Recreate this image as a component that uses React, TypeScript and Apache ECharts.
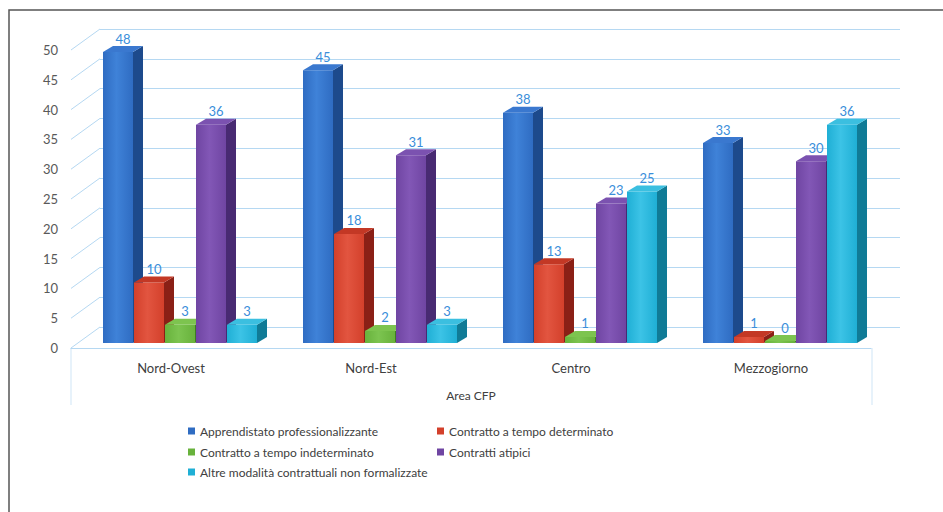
import React, { useEffect, useRef } from "react";
import * as echarts from "echarts";

const categories = ["Nord-Ovest", "Nord-Est", "Centro", "Mezzogiorno"];
const seriesNames = [
  "Apprendistato professionalizzante",
  "Contratto a tempo determinato",
  "Contratto a tempo indeterminato",
  "Contratti atipici",
  "Altre modalità contrattuali non formalizzate",
];
const apprendistato = [48, 45, 38, 33];
const tempoDeterminato = [10, 18, 13, 1];
const tempoIndeterminato = [3, 2, 1, 0];
const atipici = [36, 31, 23, 30];
const altreModalita = [3, 3, 25, 36];
const yTicks = [0, 5, 10, 15, 20, 25, 30, 35, 40, 45, 50];

const seriesValues = [apprendistato, tempoDeterminato, tempoIndeterminato, atipici, altreModalita];

const palette = [
  { front: "#2F6CC2", light: "#3F82D8", side: "#1D4A8C", top: "#3A78CF" },
  { front: "#D3402B", light: "#E25540", side: "#8A2016", top: "#C33825" },
  { front: "#68B23C", light: "#7CC450", side: "#3D7C22", top: "#7DC44F" },
  { front: "#6F45A2", light: "#8257B6", side: "#482A72", top: "#7B52B0" },
  { front: "#1FAFD5", light: "#3CC3E6", side: "#107B96", top: "#3BBFE0" },
];

const FONT = "Lato, 'Open Sans', sans-serif";
const GRID_COLOR = "#B5D8F2";

export default function App() {
  const ref = useRef<HTMLDivElement>(null);

  useEffect(() => {
    if (!ref.current) return;
    const chart = echarts.init(ref.current, undefined, { renderer: "svg" });

    const barSeries = seriesValues.map((vals, si) => ({
      type: "custom",
      name: seriesNames[si],
      xAxisIndex: 0,
      yAxisIndex: 0,
      clip: false,
      z: 5,
      itemStyle: { color: palette[si].front },
      data: vals.map((v, ci) => [ci, v]),
      encode: { x: 0, y: 1 },
      renderItem: (params: any, api: any) => {
        const ci = api.value(0);
        const v = api.value(1);
        const base = api.coord([ci, 0]);
        const topPt = api.coord([ci, v]);
        const band = api.size([1, 0])[0];
        const w = band * 0.15;
        const step = band * 0.155;
        const x0 = base[0] - band * 0.34 + step * si;
        const yBase = base[1];
        let yTop = topPt[1];
        if (yBase - yTop < 2) yTop = yBase - 2;
        const dx = 10;
        const dy = 6;
        const c = palette[si];
        return {
          type: "group",
          children: [
            {
              type: "polygon",
              shape: {
                points: [
                  [x0 + w, yTop],
                  [x0 + w + dx, yTop - dy],
                  [x0 + w + dx, yBase - dy],
                  [x0 + w, yBase],
                ],
              },
              style: { fill: c.side },
            },
            {
              type: "rect",
              shape: { x: x0, y: yTop, width: w, height: yBase - yTop },
              style: {
                fill: new echarts.graphic.LinearGradient(0, 0, 1, 0, [
                  { offset: 0, color: c.front },
                  { offset: 0.45, color: c.light },
                  { offset: 1, color: c.front },
                ]),
              },
            },
            {
              type: "polygon",
              shape: {
                points: [
                  [x0, yTop],
                  [x0 + dx, yTop - dy],
                  [x0 + w + dx, yTop - dy],
                  [x0 + w, yTop],
                ],
              },
              style: { fill: c.top },
            },
            {
              type: "text",
              style: {
                text: String(v),
                x: x0 + w / 2 + dx / 2,
                y: yTop - dy - 1,
                align: "center",
                verticalAlign: "bottom",
                fill: "#3A8EDA",
                font: `13px ${FONT}`,
              },
            },
          ],
        };
      },
    }));

    const diagonalSeries = {
      type: "custom",
      name: "diag",
      xAxisIndex: 1,
      yAxisIndex: 1,
      clip: false,
      silent: true,
      z: 1,
      data: yTicks.map((t) => [0, t]),
      encode: { x: 0, y: 1 },
      renderItem: (params: any, api: any) => {
        const p = api.coord([0, api.value(1)]);
        const x = params.coordSys.x;
        return {
          type: "line",
          shape: { x1: x, y1: p[1], x2: x + 29, y2: p[1] - 21 },
          style: { stroke: GRID_COLOR, lineWidth: 1 },
        };
      },
    };

    const legendPos = [
      { left: 188, top: 425 },
      { left: 437, top: 425 },
      { left: 188, top: 446 },
      { left: 437, top: 446 },
      { left: 188, top: 466 },
    ];

    const option: any = {
      animation: false,
      backgroundColor: "#ffffff",
      textStyle: { fontFamily: FONT },
      grid: [
        { left: 71, right: 72, top: 40, bottom: 169 },
        { left: 71, right: 72, top: 50, bottom: 164 },
        { left: 100, right: 43, top: 29, bottom: 185 },
      ],
      xAxis: [
        {
          type: "category",
          gridIndex: 0,
          data: categories,
          show: false,
        },
        {
          type: "category",
          gridIndex: 1,
          data: categories,
          axisLine: { show: true, lineStyle: { color: GRID_COLOR } },
          axisTick: { show: false },
          axisLabel: { color: "#404040", fontSize: 13, fontFamily: FONT, margin: 13 },
          name: "Area CFP",
          nameLocation: "middle",
          nameGap: 41,
          nameTextStyle: { color: "#404040", fontSize: 12, fontFamily: FONT },
        },
        {
          type: "category",
          gridIndex: 2,
          data: categories,
          show: false,
        },
      ],
      yAxis: [
        { type: "value", gridIndex: 0, min: 0, max: 50, interval: 5, show: false },
        {
          type: "value",
          gridIndex: 1,
          min: 0,
          max: 50,
          interval: 5,
          axisLine: { show: false },
          axisTick: { show: false },
          splitLine: { show: false },
          axisLabel: { color: "#595959", fontSize: 13, fontFamily: FONT, margin: 13 },
        },
        {
          type: "value",
          gridIndex: 2,
          min: 0,
          max: 50,
          interval: 5,
          axisLine: { show: false },
          axisTick: { show: false },
          axisLabel: { show: false },
          splitLine: { show: true, lineStyle: { color: GRID_COLOR, width: 1 } },
        },
      ],
      legend: seriesNames.map((n, i) => ({
        data: [n],
        left: legendPos[i].left,
        top: legendPos[i].top,
        padding: 0,
        icon: "rect",
        itemWidth: 7,
        itemHeight: 7,
        selectedMode: false,
        textStyle: { color: "#404040", fontSize: 12, fontFamily: FONT },
      })),
      graphic: [
        {
          type: "rect",
          silent: true,
          shape: { x: 9, y: 10, width: 1000, height: 600 },
          style: { fill: "none", stroke: "#555555", lineWidth: 1.5 },
        },
        {
          type: "polyline",
          silent: true,
          shape: { points: [[71, 348], [71, 405]] },
          style: { stroke: "#CFE5F6", lineWidth: 1 },
        },
        {
          type: "polyline",
          silent: true,
          shape: { points: [[872, 348], [872, 405]] },
          style: { stroke: "#CFE5F6", lineWidth: 1 },
        },
      ],
      series: [diagonalSeries, ...barSeries],
    };

    chart.setOption(option);
    return () => chart.dispose();
  }, []);

  return (
    <div
      ref={ref}
      style={{ position: "fixed", left: 0, top: 0, width: 943, height: 512, background: "#fff" }}
    />
  );
}
